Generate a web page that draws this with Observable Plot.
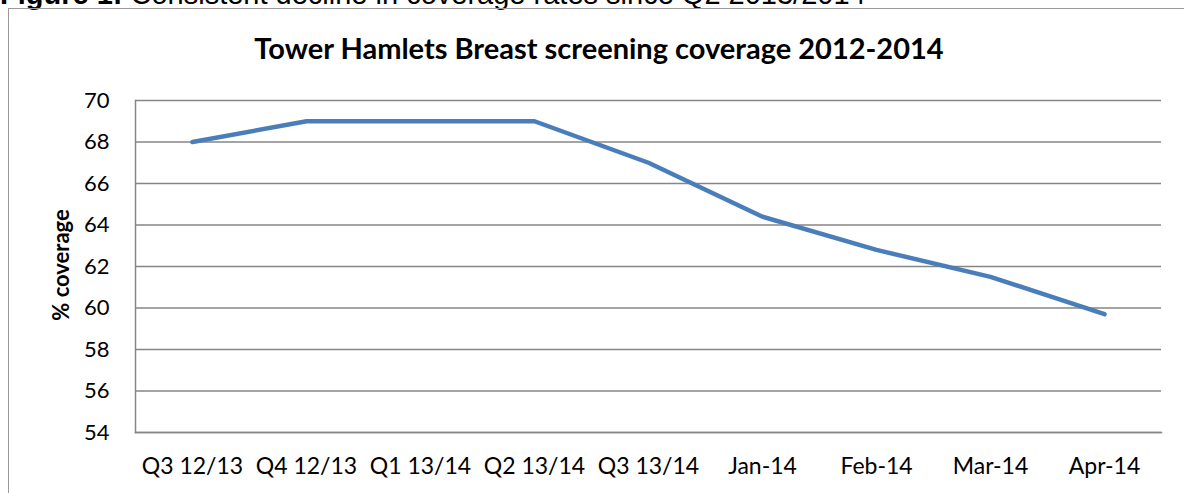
<!DOCTYPE html>
<html>
<head>
<meta charset="utf-8">
<script src="https://cdn.jsdelivr.net/npm/d3@7"></script>
<script src="https://cdn.jsdelivr.net/npm/@observablehq/plot@0.6"></script>
<style>
  html, body { margin: 0; padding: 0; background: #fff; }
  body { width: 1184px; height: 493px; position: relative; overflow: hidden; font-family: Lato, "Open Sans", sans-serif; }
  #caption { position: absolute; left: 0; top: -20px; font-family: "Liberation Sans", Arial, sans-serif; font-size: 29px; line-height: 29px; white-space: nowrap; color: #000; }
  #frame { position: absolute; left: 8px; top: 8px; width: 1300px; height: 600px; border-top: 1.5px solid #9a9a9a; border-left: 1.5px solid #9a9a9a; }
  #title { position: absolute; left: 0; width: 1198px; top: 30px; text-align: center; font-weight: bold; font-size: 29px; color: #000; white-space: nowrap; }
  #chart { position: absolute; left: 0; top: 0; }
  #ylabel { position: absolute; left: 60px; top: 265px; transform: translate(-50%, -50%) rotate(-90deg); font-weight: bold; font-size: 22px; white-space: nowrap; color: #000; }
</style>
</head>
<body>
<div id="caption"><b>Figure 1:</b> Consistent decline in coverage rates since Q2 2013/2014</div>
<div id="frame"></div>
<div id="chart"></div>
<div id="title">Tower Hamlets Breast screening coverage 2012-2014</div>
<div id="ylabel">% coverage</div>
<script>
const categories = ["Q3 12/13", "Q4 12/13", "Q1 13/14", "Q2 13/14", "Q3 13/14", "Jan-14", "Feb-14", "Mar-14", "Apr-14"];
const coverage = [68, 69, 69, 69, 67, 64.4, 62.8, 61.5, 59.7];
const yTicks = [54, 56, 58, 60, 62, 64, 66, 68, 70];

const data = categories.map((c, i) => ({ period: c, value: coverage[i] }));

const chart = Plot.plot({
  width: 1184,
  height: 493,
  marginLeft: 135,
  marginRight: 23,
  marginTop: 100,
  marginBottom: 61,
  style: { fontFamily: "Lato, 'Open Sans', sans-serif", background: "transparent", color: "#000" },
  x: { type: "point", domain: categories, padding: 0.5, label: null },
  y: { domain: [54, 70], label: null },
  marks: [
    Plot.gridY(yTicks, { stroke: "#868686", strokeOpacity: 1, strokeWidth: 1.5 }),
    Plot.frame({ anchor: "left", stroke: "#868686", strokeWidth: 1.5 }),
    Plot.frame({ anchor: "bottom", stroke: "#868686", strokeWidth: 1.5 }),
    Plot.axisY(yTicks, { tickSize: 0, tickPadding: 26, fontSize: 22, label: null, fill: "#000" }),
    Plot.axisX({ tickSize: 0, tickPadding: 25, fontSize: 23, label: null, fill: "#000" }),
    Plot.lineY(data, { x: "period", y: "value", stroke: "#4a7ebb", strokeWidth: 4.5, strokeLinejoin: "round", strokeLinecap: "round" })
  ]
});
document.getElementById("chart").appendChild(chart);
</script>
</body>
</html>
